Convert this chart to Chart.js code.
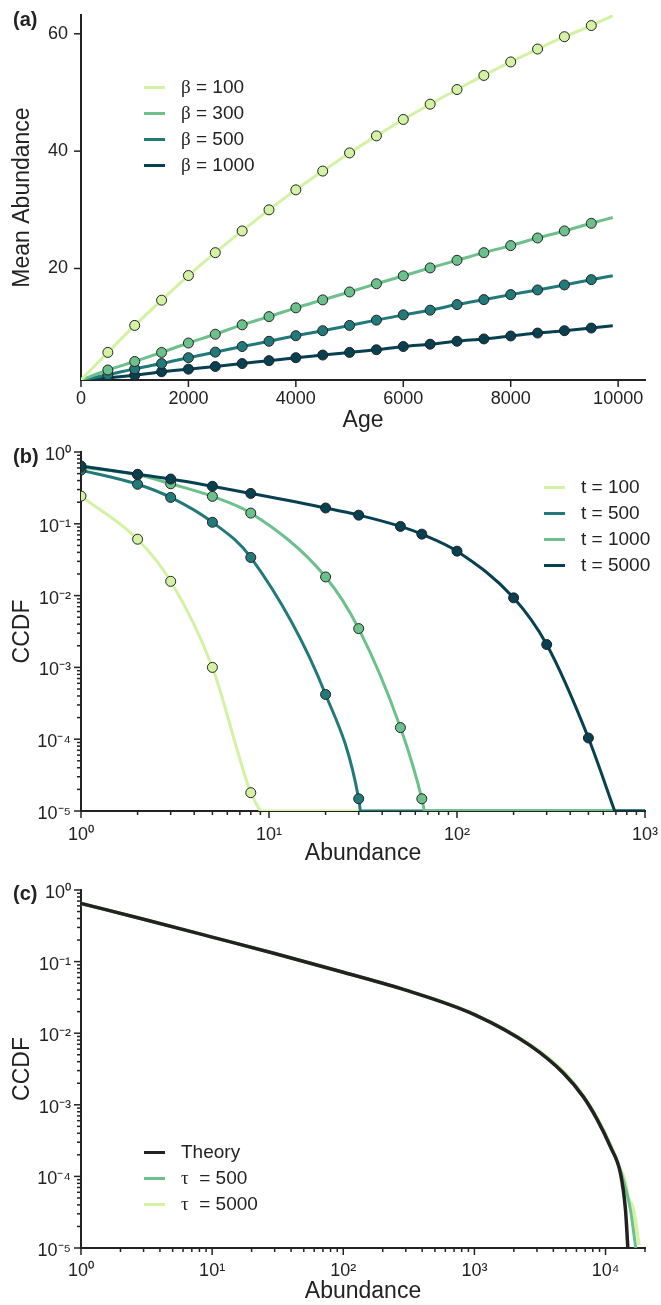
<!DOCTYPE html>
<html>
<head>
<meta charset="utf-8">
<script src="https://cdn.jsdelivr.net/npm/chart.js@4.4.0/dist/chart.umd.min.js"></script>
<style>
  body { margin: 0; background: #fff; width: 661px; height: 1305px; position: relative; overflow: hidden;
         font-family: "Liberation Sans", Arial, sans-serif; color: #222; }
  canvas { position: absolute; left: 0; }
  .tag { position: absolute; left: 13px; font-weight: bold; font-size: 20px; }
  .legend { position: absolute; font-size: 19px; }
  .legend div { height: 26px; display: flex; align-items: center; white-space: pre; }
  .legend i { display: inline-block; width: 21px; height: 3px; margin-right: 16px; }
  .g { font-family: "Liberation Serif", serif; }
</style>
</head>
<body>
<canvas id="ca" width="661" height="440" style="top:0px"></canvas>
<canvas id="cb" width="661" height="430" style="top:440px"></canvas>
<canvas id="cc" width="661" height="435" style="top:870px"></canvas>
<div class="tag" style="top:8px">(a)</div>
<div class="tag" style="top:445px">(b)</div>
<div class="tag" style="top:882px">(c)</div>
<div class="legend" id="la" style="left:144px;top:74px"></div>
<div class="legend" id="lb" style="left:544px;top:474px"></div>
<div class="legend" id="lc" style="left:144px;top:1139px"></div>
<script>
// colours
const LIGHT = '#d3f2a3', GREEN = '#6cc08b', TEAL = '#217a79', DARK = '#074050', INK = '#222';
const FONT = '"Liberation Sans", Arial, sans-serif';

// (a) mean abundance vs age
const ages = [0, 500, 1000, 1500, 2000, 2500, 3000, 3500, 4000, 4500, 5000,
              5500, 6000, 6500, 7000, 7500, 8000, 8500, 9000, 9500, 9900];
const beta100 = [1, 5.7, 10.3, 14.6, 18.8, 22.7, 26.4, 30.0, 33.4, 36.6, 39.7,
                 42.6, 45.4, 48.0, 50.5, 52.9, 55.2, 57.4, 59.5, 61.4, 63.1];
const beta300 = [1, 2.7, 4.15, 5.7, 7.3, 8.8, 10.4, 11.8, 13.3, 14.65, 16.0,
                 17.4, 18.75, 20.1, 21.4, 22.7, 23.9, 25.2, 26.4, 27.7, 28.7];
const beta500 = [1, 1.9, 2.9, 3.8, 4.8, 5.75, 6.7, 7.6, 8.55, 9.4, 10.3,
                 11.2, 12.1, 12.9, 13.85, 14.7, 15.55, 16.35, 17.2, 18.1, 18.75];
const beta1000 = [1, 1.4, 1.8, 2.4, 2.85, 3.3, 3.8, 4.3, 4.8, 5.25, 5.7,
                  6.15, 6.7, 7.1, 7.6, 8.0, 8.5, 9.0, 9.4, 9.85, 10.25];
const betaLabels = ['β = 100', 'β = 300', 'β = 500', 'β = 1000'];
const ageTicks = [0, 2000, 4000, 6000, 8000, 10000];
const meanTicks = [20, 40, 60];

// (b) CCDF at several times: simulated points
const abundPts = [1, 2, 3, 5, 8, 20, 30, 50, 65, 100, 200, 300, 500];
const t100Pts = [0.243, 0.061, 0.0158, 0.001, 1.8e-5];
const t500Pts = [0.56, 0.355, 0.233, 0.105, 0.034, 4.2e-4, 1.48e-5];
const t1000Pts = [0.62, 0.48, 0.361, 0.241, 0.141, 0.0182, 0.00347, 1.45e-4, 1.48e-5];
const t5000Pts = [0.64, 0.489, 0.42, 0.333, 0.265, 0.166, 0.132, 0.092, 0.0718, 0.0416, 0.0093, 0.00208, 1.04e-4];
// (b) theory curves, down to where they leave the axis range
const t100LineX = [1, 2, 3, 5, 8, 9];
const t100Line = [0.243, 0.061, 0.0158, 0.001, 1.8e-5, 1e-5];
const t500LineX = [1, 2, 3, 5, 8, 20, 30, 30.6];
const t500Line = [0.56, 0.355, 0.233, 0.105, 0.034, 4.2e-4, 1.48e-5, 1e-5];
const t1000LineX = [1, 2, 3, 5, 8, 20, 30, 50, 65, 67];
const t1000Line = [0.62, 0.48, 0.361, 0.241, 0.141, 0.0182, 0.00347, 1.45e-4, 1.48e-5, 1e-5];
const t5000LineX = [1, 2, 3, 5, 8, 20, 30, 50, 65, 100, 200, 300, 500, 690];
const t5000Line = [0.64, 0.489, 0.42, 0.333, 0.265, 0.166, 0.132, 0.092, 0.0718, 0.0416, 0.0093, 0.00208, 1.04e-4, 1e-5];
const floorCCDF = 1e-5;
const tLabels = ['t = 100', 't = 500', 't = 1000', 't = 5000'];

// (c) stationary CCDF
const theoryX = [1, 3, 10, 30, 100, 300, 1000, 2700, 4800, 6800, 8600, 10900, 13000, 14200, 14800];
const theory = [0.65, 0.39, 0.22, 0.13, 0.071, 0.040, 0.0182, 0.0066, 0.00274, 0.00128, 6.3e-4, 2.58e-4, 1.1e-4, 3.4e-5, 1e-5];
const tau500X = [1, 3, 10, 30, 100, 300, 1000, 2700, 4800, 6800, 8600, 10900, 13000, 14500, 15500, 17000];
const tau500 = [0.65, 0.39, 0.22, 0.13, 0.071, 0.040, 0.0183, 0.0067, 0.0028, 0.0013, 6.5e-4, 2.7e-4, 1.2e-4, 6e-5, 3.4e-5, 1e-5];
const tau5000X = [1, 3, 10, 30, 100, 300, 1000, 2700, 4800, 6800, 8600, 10900, 13000, 13800, 15100, 16200, 18000];
const tau5000 = [0.65, 0.39, 0.22, 0.13, 0.071, 0.040, 0.0184, 0.0068, 0.0029, 0.00132, 6.6e-4, 2.8e-4, 1.25e-4, 9.8e-5, 4.7e-5, 3.7e-5, 1.1e-5];
const cLabels = ['Theory', 'τ  = 500', 'τ  = 5000'];

const zip = (xs, ys) => ys.map((y, i) => ({x: xs[i], y}));

const SUP = {'0': '⁰', '1': '¹', '2': '²', '3': '³', '4': '⁴', '5': '⁵', '-': '⁻'};
const isDecade = v => Math.abs(Math.log10(v) - Math.round(Math.log10(v))) < 1e-6;
function pow10(v) {
  if (!isDecade(v)) return '';
  return '10' + String(Math.round(Math.log10(v))).split('').map(c => SUP[c]).join('');
}
function logTicks(min, max) {
  const out = [];
  for (let e = Math.floor(Math.log10(min)); e <= Math.ceil(Math.log10(max)); e++) {
    for (let m = 1; m < 10; m++) {
      const v = +(m * Math.pow(10, e)).toPrecision(4);
      if (v >= min * 0.999 && v <= max * 1.001) out.push({value: v});
    }
  }
  return out;
}

// outward tick marks, short ones for log minor ticks
const tickMarks = {
  id: 'tickMarks',
  afterDraw(chart) {
    const {ctx, chartArea} = chart;
    ctx.save();
    ctx.strokeStyle = INK;
    ctx.lineWidth = 1.5;
    for (const s of Object.values(chart.scales)) {
      const isLog = s.type === 'logarithmic';
      for (const t of s.ticks) {
        const len = (!isLog || isDecade(t.value)) ? 7 : 4;
        const p = s.getPixelForValue(t.value);
        ctx.beginPath();
        if (s.isHorizontal()) {
          ctx.moveTo(p, chartArea.bottom);
          ctx.lineTo(p, chartArea.bottom + len);
        } else {
          ctx.moveTo(chartArea.left - len, p);
          ctx.lineTo(chartArea.left, p);
        }
        ctx.stroke();
      }
    }
    ctx.restore();
  }
};

function axis(opts) {
  const log = opts.type === 'logarithmic';
  return {
    type: opts.type, min: opts.min, max: opts.max,
    afterBuildTicks: s => { s.ticks = log ? logTicks(opts.min, opts.max) : opts.ticks.map(v => ({value: v})); },
    afterFit: s => {
      if (s.isHorizontal()) s.height = opts.size; else s.width = opts.size;
      s.paddingTop = s.paddingBottom = s.paddingLeft = s.paddingRight = 0;
    },
    grid: {display: false, drawTicks: false},
    border: {display: true, color: INK, width: 2},
    ticks: {
      autoSkip: false, maxRotation: 0, minRotation: 0, padding: opts.pad, color: INK,
      labelOffset: opts.labelOffset || 0,
      font: {size: 18, family: FONT},
      callback: log ? (v => pow10(v)) : (v => String(v))
    },
    title: {display: true, text: opts.title, color: INK, font: {size: 23, family: FONT}, padding: opts.titlePad}
  };
}

function baseOptions(top, xAxis, yAxis) {
  return {
    responsive: false, animation: false,
    layout: {padding: {top: top, right: 16, left: 0, bottom: 0}},
    plugins: {legend: {display: false}, tooltip: {enabled: false}},
    scales: {x: xAxis, y: yAxis}
  };
}

function lineSet(data, color, width) {
  return {data, borderColor: color, backgroundColor: color, borderWidth: width, pointRadius: 0,
          cubicInterpolationMode: 'monotone', fill: false};
}
function floorSet(fromX, color) {
  return {data: [{x: fromX, y: floorCCDF}, {x: 1000, y: floorCCDF}], borderColor: color,
          borderWidth: 3, pointRadius: 0, fill: false};
}
function dotSet(data, color) {
  return {data, showLine: false, pointRadius: 5, pointBackgroundColor: color,
          pointBorderColor: INK, pointBorderWidth: 1};
}

function legend(id, labels, colors) {
  const el = document.getElementById(id);
  labels.forEach((lab, i) => {
    const row = document.createElement('div');
    const sw = document.createElement('i');
    sw.style.background = colors[i];
    row.appendChild(sw);
    const txt = document.createElement('span');
    txt.innerHTML = lab.replace(/([βτ])/, '<span class="g">$1</span>');
    row.appendChild(txt);
    el.appendChild(row);
  });
}

// Chart.js paints dataset 0 last (on top), so top-most series come first.

// ---- panel (a)
const aColors = [LIGHT, GREEN, TEAL, DARK];
const aSeries = [beta100, beta300, beta500, beta1000];
new Chart(document.getElementById('ca'), {
  type: 'line',
  data: {
    datasets: aSeries.map((vals, i) => ({
      label: betaLabels[i],
      data: zip(ages, vals),
      borderColor: aColors[i], borderWidth: 3,
      cubicInterpolationMode: 'monotone',
      pointRadius: ctx => (ctx.dataIndex === 0 || ctx.dataIndex === ages.length - 1) ? 0 : 5,
      pointBackgroundColor: aColors[i], pointBorderColor: INK, pointBorderWidth: 1
    }))
  },
  options: baseOptions(15,
    axis({type: 'linear', min: 0, max: 10500, ticks: ageTicks, pad: 8, title: 'Age',
          titlePad: {top: 0, bottom: 6}, size: 60}),
    axis({type: 'linear', min: 1, max: 63.2, ticks: meanTicks, pad: 13, title: 'Mean Abundance',
          titlePad: {top: 9, bottom: 0}, size: 81})),
  plugins: [tickMarks]
});
legend('la', betaLabels, aColors);

// ---- panel (b)
const bColors = [LIGHT, TEAL, GREEN, DARK];
new Chart(document.getElementById('cb'), {
  type: 'line',
  data: {
    datasets: [
      dotSet(zip(abundPts, t5000Pts), DARK),
      dotSet(zip(abundPts, t1000Pts), GREEN),
      dotSet(zip(abundPts, t500Pts), TEAL),
      dotSet(zip(abundPts, t100Pts), LIGHT),
      lineSet(zip(t5000LineX, t5000Line), DARK, 3),
      lineSet(zip(t1000LineX, t1000Line), GREEN, 3),
      lineSet(zip(t500LineX, t500Line), TEAL, 3),
      lineSet(zip(t100LineX, t100Line), LIGHT, 3),
      floorSet(t5000LineX[t5000LineX.length - 1], DARK),
      floorSet(t1000LineX[t1000LineX.length - 1], GREEN),
      floorSet(t500LineX[t500LineX.length - 1], TEAL),
      floorSet(t100LineX[t100LineX.length - 1], LIGHT)
    ]
  },
  options: baseOptions(12,
    axis({type: 'logarithmic', min: 1, max: 1000, pad: 13, title: 'Abundance',
          titlePad: {top: 0, bottom: 3}, size: 430 - 371}),
    axis({type: 'logarithmic', min: 1e-5, max: 1, pad: 10, labelOffset: 3, title: 'CCDF',
          titlePad: {top: 9, bottom: 0}, size: 81})),
  plugins: [tickMarks]
});
legend('lb', tLabels, bColors);

// ---- panel (c)
const cColors = [INK, GREEN, LIGHT];
new Chart(document.getElementById('cc'), {
  type: 'line',
  data: {
    datasets: [
      lineSet(zip(theoryX, theory), INK, 3.5),
      lineSet(zip(tau500X, tau500), GREEN, 3),
      lineSet(zip(tau5000X, tau5000), LIGHT, 3.5)
    ]
  },
  options: baseOptions(20,
    axis({type: 'logarithmic', min: 1, max: 20000, pad: 12, title: 'Abundance',
          titlePad: {top: 0, bottom: 0}, size: 435 - 378}),
    axis({type: 'logarithmic', min: 1e-5, max: 1, pad: 10, labelOffset: 3, title: 'CCDF',
          titlePad: {top: 9, bottom: 0}, size: 81})),
  plugins: [tickMarks]
});
legend('lc', cLabels, cColors);
</script>
</body>
</html>
